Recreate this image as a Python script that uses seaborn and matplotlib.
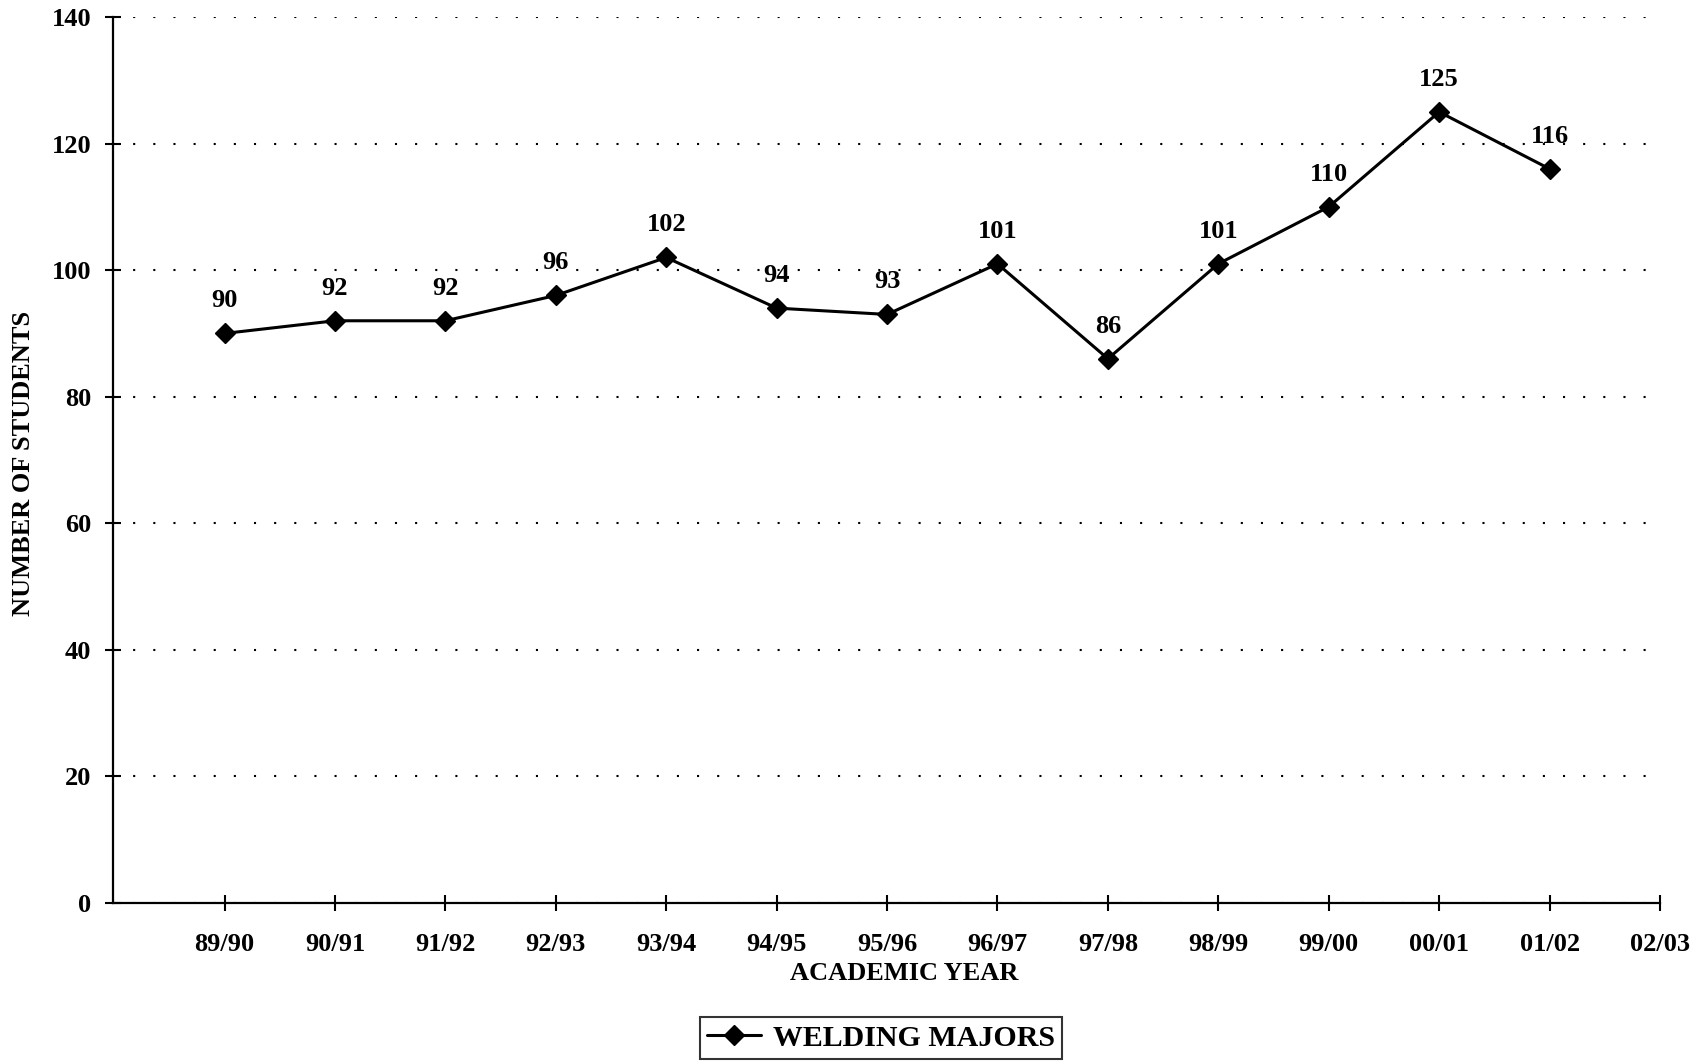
import matplotlib
matplotlib.use("Agg")
import matplotlib.pyplot as plt
import seaborn as sns
import pandas as pd

# Enrollment of welding majors by academic year
years = ["89/90", "90/91", "91/92", "92/93", "93/94", "94/95", "95/96",
         "96/97", "97/98", "98/99", "99/00", "00/01", "01/02"]
students = [90, 92, 92, 96, 102, 94, 93, 101, 86, 101, 110, 125, 116]
tick_labels = years + ["02/03"]
y_ticks = [0, 20, 40, 60, 80, 100, 120, 140]

sns.set_style("white")
plt.rcParams["font.family"] = ["Liberation Serif", "DejaVu Serif"]
plt.rcParams["font.weight"] = "bold"
plt.rcParams["text.color"] = "black"
plt.rcParams["axes.labelcolor"] = "black"
plt.rcParams["xtick.color"] = "black"
plt.rcParams["ytick.color"] = "black"
plt.rcParams["xtick.bottom"] = True
plt.rcParams["ytick.left"] = True
plt.rcParams["lines.scale_dashes"] = False

df = pd.DataFrame({"pos": range(len(years)), "students": students})

fig = plt.figure(figsize=(17.07, 10.63), dpi=100)
ax = fig.add_axes([113 / 1707, 1 - 903 / 1063, (1660 - 113) / 1707, (903 - 17) / 1063])

sns.lineplot(data=df, x="pos", y="students", ax=ax, color="black",
             linewidth=2.2, marker="D", markersize=10,
             markeredgecolor="black", markeredgewidth=1,
             errorbar=None, sort=False, label="WELDING MAJORS")

for x, v in zip(df["pos"], df["students"]):
    ax.annotate(f"{v}", (x, v), xytext=(0, 23.5), textcoords="offset points",
                ha="center", va="center", fontsize=19, fontweight="bold",
                color="black")

ax.set_xlim(-1.01, len(tick_labels) - 1)
ax.set_ylim(0, 140)
ax.set_xticks(range(len(tick_labels)))
ax.set_xticklabels(tick_labels)
ax.set_yticks(y_ticks)
for lab in ax.get_xticklabels() + ax.get_yticklabels():
    lab.set_fontsize(19)
    lab.set_fontweight("bold")

ax.tick_params(axis="both", direction="inout", length=11, width=1.5,
               color="black", labelcolor="black", bottom=True, left=True)
ax.tick_params(axis="y", pad=10)
ax.tick_params(axis="x", pad=16)

ax.yaxis.grid(True, linestyle=(0, (1.5, 13)), color="black", linewidth=1.5)
ax.xaxis.grid(False)
ax.set_axisbelow(True)

for side in ["top", "right"]:
    ax.spines[side].set_visible(False)
for side in ["left", "bottom"]:
    ax.spines[side].set_color("black")
    ax.spines[side].set_linewidth(1.6)

ax.set_xlabel("ACADEMIC YEAR", fontsize=19, fontweight="bold", color="black")
ax.xaxis.set_label_coords((904 - 113) / 1547, (903 - 974) / 886)
ax.xaxis.label.set_va("center")
ax.set_ylabel("NUMBER OF STUDENTS", fontsize=19, fontweight="bold", color="black")
ax.yaxis.set_label_coords((24 - 113) / 1547, (903 - 463) / 886)
ax.yaxis.label.set_va("center")

leg = ax.legend(loc="center", bbox_to_anchor=(881 / 1707, 1 - 1038 / 1063),
                bbox_transform=fig.transFigure, fancybox=False, shadow=False,
                frameon=True, edgecolor="black", fontsize=21.5,
                handlelength=1.8, handletextpad=0.4, borderpad=0.25,
                borderaxespad=0)
leg.get_frame().set_linewidth(1.5)
for t in leg.get_texts():
    t.set_fontweight("bold")
    t.set_color("black")

fig.savefig("out.png", dpi=100, facecolor="white")
